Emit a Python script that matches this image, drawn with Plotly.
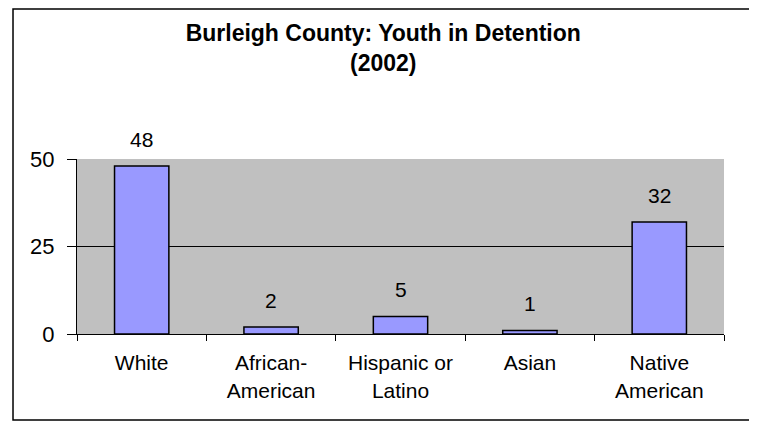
import plotly.graph_objects as go

categories = ["White", "African-American", "Hispanic or Latino", "Asian", "Native American"]
tick_labels = ["White", "African-<br>American", "Hispanic or<br>Latino", "Asian", "Native<br>American"]
values = [48, 2, 5, 1, 32]
y_ticks = [0, 25, 50]

FONT = "Liberation Sans, Arial, sans-serif"

fig = go.Figure()
fig.add_trace(go.Bar(
    x=categories, y=values, width=0.42,
    marker=dict(color="#9999FF", line=dict(color="black", width=1.5)),
    hoverinfo="skip",
))

for c, v in zip(categories, values):
    fig.add_annotation(x=c, y=v, text=str(v), showarrow=False, yshift=27,
                       yanchor="middle", font=dict(family=FONT, size=21, color="black"))

W, H = 749, 413
fig.update_layout(
    width=W, height=H,
    margin=dict(l=69, r=33, t=151, b=87),
    paper_bgcolor="white", plot_bgcolor="#C0C0C0",
    showlegend=False,
    title=dict(text="<b>Burleigh County: Youth in Detention<br>(2002)</b>",
               x=0.501, xref="container", xanchor="center",
               y=1 - 33 / H, yref="container", yanchor="top",
               font=dict(family=FONT, size=23, color="black")),
    font=dict(family=FONT, size=21, color="black"),
)
fig.update_xaxes(
    tickmode="array", tickvals=categories, ticktext=tick_labels,
    tickson="boundaries", ticks="outside", ticklen=6, tickcolor="black",
    ticklabelstandoff=10,
    showline=True, linecolor="black", linewidth=1, showgrid=False,
    tickfont=dict(family=FONT, size=21, color="black"),
)
fig.update_yaxes(
    range=[0, 50], tickvals=y_ticks, ticks="outside", ticklen=9, tickcolor="black",
    ticklabelstandoff=8,
    showline=True, linecolor="black", linewidth=1,
    showgrid=True, gridcolor="black", gridwidth=1, zeroline=False,
    tickfont=dict(family=FONT, size=22, color="black"),
)
fig.add_shape(type="rect", xref="paper", yref="paper",
              x0=-0.0989, x1=1.0402, y0=-0.491, y1=1.857,
              line=dict(color="black", width=1.5), fillcolor="rgba(0,0,0,0)", layer="below")

fig.write_html("out.html")
